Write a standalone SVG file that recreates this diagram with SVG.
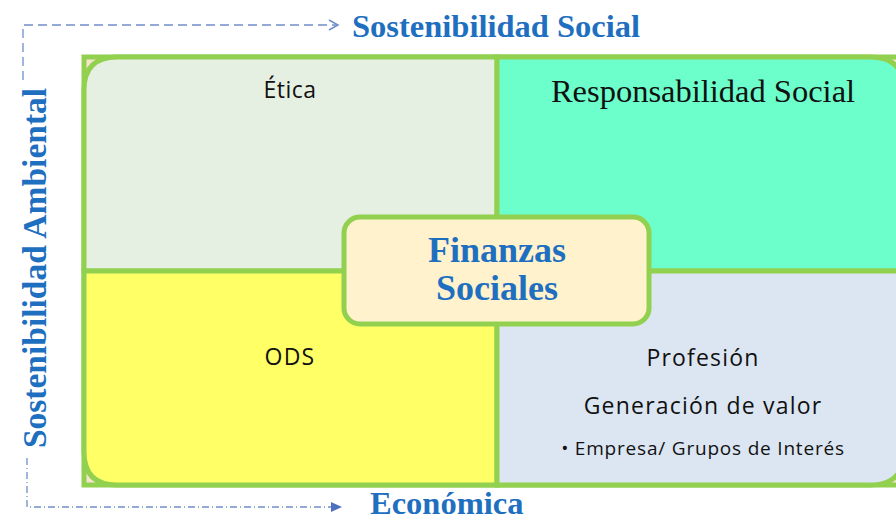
<svg xmlns="http://www.w3.org/2000/svg" width="896" height="518" viewBox="0 0 896 518">
<defs>
<style>
.q{stroke:#92D050;stroke-width:5}
.ax{fill:#1F6FC0;font-family:"Liberation Serif",serif;font-weight:bold}
.sans{fill:#111;font-family:"Open Sans","Liberation Sans",sans-serif}
.conn{fill:none;stroke:#6F8FC8;stroke-width:1.3}
</style>
<marker id="open" markerWidth="12" markerHeight="12" refX="10" refY="6" orient="auto" markerUnits="userSpaceOnUse">
<path d="M1,1 L10,6 L1,11" fill="none" stroke="#6F8FC8" stroke-width="1.5"/>
</marker>
<marker id="fill" markerWidth="12" markerHeight="12" refX="10" refY="6" orient="auto" markerUnits="userSpaceOnUse">
<path d="M0,1 L11,6 L0,11 Z" fill="#4F6FC0"/>
</marker>
</defs>
<rect width="896" height="518" fill="#fff"/>
<g id="frame">
<rect x="84" y="57" width="820" height="428" fill="#F7E4CC" class="q"/>
</g>
<g id="etica">
<path d="M84,271 V90 Q84,57 117,57 H497 V271 Z" fill="#E6F0E2" class="q"/>
<text class="sans" x="290" y="98" font-size="23" letter-spacing="0.5" text-anchor="middle">Ética</text>
</g>
<g id="responsabilidad">
<path d="M497,57 H870 Q904,57 904,90 V271 H497 Z" fill="#6CFFCB" class="q"/>
<text x="703" y="102" font-size="32.5" text-anchor="middle" fill="#111" font-family="Liberation Serif,serif">Responsabilidad Social</text>
</g>
<g id="ods">
<path d="M84,271 H497 V485 H117 Q84,485 84,452 Z" fill="#FFFF66" class="q"/>
<text class="sans" x="290" y="365" font-size="23" letter-spacing="1.2" text-anchor="middle">ODS</text>
</g>
<g id="profesion">
<path d="M497,271 H904 V452 Q904,485 870,485 H497 Z" fill="#DCE6F2" class="q"/>
<text class="sans" x="703" y="366" font-size="23" letter-spacing="1.2" text-anchor="middle">Profesión</text>
<text class="sans" x="703" y="414" font-size="23" letter-spacing="1.2" text-anchor="middle">Generación de valor</text>
<text class="sans" x="703" y="455" font-size="19" letter-spacing="0.8" text-anchor="middle">• Empresa/ Grupos de Interés</text>
</g>
<g id="finanzas">
<rect x="344" y="217" width="305" height="107" rx="16" fill="#FFF2CC" class="q"/>
<text class="ax" x="497" y="262" font-size="36" text-anchor="middle">Finanzas</text>
<text class="ax" x="497" y="300" font-size="36" text-anchor="middle">Sociales</text>
</g>
<g id="labels">
<rect x="338" y="5" width="460" height="38" fill="#fff"/>
<text class="ax" x="352" y="37" font-size="32.5">Sostenibilidad Social</text>
<rect x="10" y="83" width="52" height="372" fill="#fff"/>
<text class="ax" transform="translate(46,268) rotate(-90)" x="0" y="0" font-size="33.5" text-anchor="middle">Sostenibilidad Ambiental</text>
<rect x="356" y="490" width="410" height="28" fill="#fff"/>
<text class="ax" x="370" y="514" font-size="32.5">Económica</text>
</g>
<g id="connectors">
<path class="conn" d="M23,80 V25 H338" stroke-dasharray="9,5" marker-end="url(#open)"/>
<path class="conn" d="M27,458 V507 H341" stroke-dasharray="7,3,1,3" marker-end="url(#fill)"/>
</g>
</svg>
